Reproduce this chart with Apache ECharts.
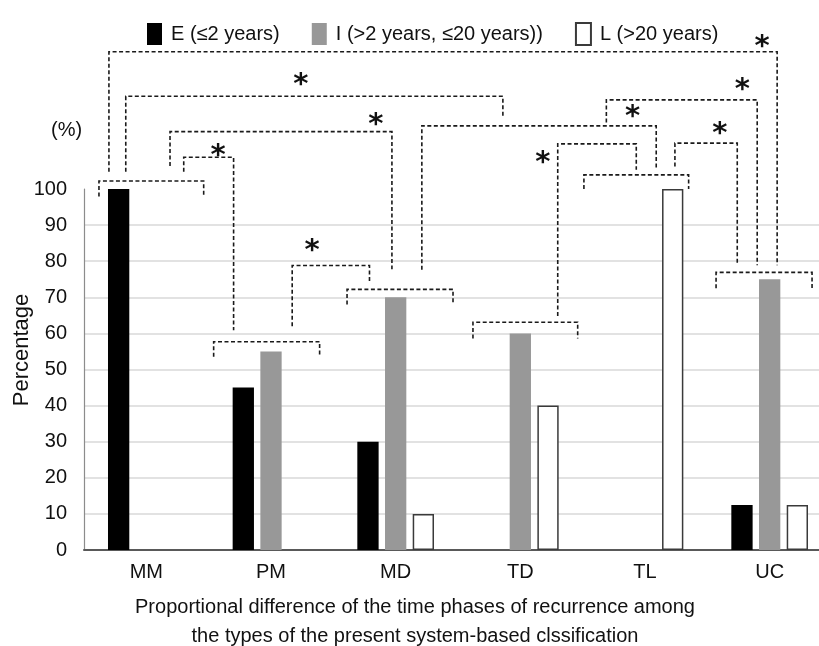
<!DOCTYPE html>
<html>
<head>
<meta charset="utf-8">
<script src="https://cdn.jsdelivr.net/npm/echarts@6/dist/echarts.min.js"></script>
<style>
html,body{margin:0;padding:0;background:#fff;}
#chart{width:819px;height:646px;}
</style>
</head>
<body>
<div id="chart"></div>
<script>
// ---- data ----
const categories = ['MM', 'PM', 'MD', 'TD', 'TL', 'UC'];
const seriesNames = ['E (≤2 years)', 'I (>2 years, ≤20 years))', 'L (>20 years)'];
const earlyValues = [100, 45, 30, 0, 0, 12.5];
const intermediateValues = [0, 55, 70, 60, 0, 75];
const lateValues = [0, 0, 10, 40, 100, 12.5];
const yTicks = [0, 10, 20, 30, 40, 50, 60, 70, 80, 90, 100];

// significance annotations, in data units (x: category position 0..6, y: percentage)
// group brackets: [xStart, xEnd, yTop, yTickEnd]
const groupBrackets = [
  [0.12, 0.96, 102.2, 97.9],
  [1.04, 1.89, 57.7, 53.5],
  [2.11, 2.96, 72.2, 68.0],
  [3.12, 3.96, 63.1, 58.6],
  [4.01, 4.85, 103.9, 100.0],
  [5.07, 5.84, 76.9, 72.5]
];
// comparison brackets: [xStart, xEnd, yTop, yLeftEnd, yRightEnd, starX, starY]
const compBrackets = [
  [0.20, 5.56, 138.0, 104.8, 78.9, 5.44, 140.5],
  [0.335, 3.36, 125.7, 104.8, 119.8, 1.74, 130.2],
  [0.69, 2.47, 115.9, 106.4, 77.8, 2.34, 119.1],
  [0.80, 1.20, 108.8, 104.8, 60.9, 1.075, 110.3],
  [1.67, 2.29, 78.8, 62.0, 74.2, 1.83, 84.0],
  [2.71, 4.59, 117.5, 77.6, 105.7, 4.40, 121.2],
  [3.80, 4.43, 112.5, 64.8, 105.3, 3.68, 108.5],
  [4.74, 5.24, 112.7, 106.2, 78.9, 5.10, 116.5],
  [4.19, 5.40, 124.7, 118.4, 78.9, 5.28, 128.8]
];

const FONT = '"Liberation Sans", Arial, sans-serif';
const dashStyle = { stroke: '#1a1a1a', lineWidth: 1.6, lineDash: [4, 2.5], fill: null };
const hideZero = arr => arr.map(v => (v === 0 ? null : v));

const chart = echarts.init(document.getElementById('chart'), null, { renderer: 'canvas' });

function renderGroup(params, api) {
  const b = groupBrackets[params.dataIndex];
  const p1 = api.coord([b[0], b[3]]);
  const p2 = api.coord([b[0], b[2]]);
  const p3 = api.coord([b[1], b[2]]);
  const p4 = api.coord([b[1], b[3]]);
  return { type: 'polyline', shape: { points: [p1, p2, p3, p4] }, style: dashStyle, silent: true };
}
function renderComp(params, api) {
  const b = compBrackets[params.dataIndex];
  const p1 = api.coord([b[0], b[3]]);
  const p2 = api.coord([b[0], b[2]]);
  const p3 = api.coord([b[1], b[2]]);
  const p4 = api.coord([b[1], b[4]]);
  const s = api.coord([b[5], b[6]]);
  return {
    type: 'group',
    children: [
      { type: 'polyline', shape: { points: [p1, p2, p3, p4] }, style: dashStyle, silent: true },
      { type: 'text', style: { text: '*', x: s[0], y: s[1] + 5, fontSize: 29, fontWeight: 'bold', fontFamily: '"DejaVu Sans", sans-serif', fill: '#111', align: 'center', verticalAlign: 'middle' }, silent: true }
    ]
  };
}

const option = {
  animation: false,
  backgroundColor: '#fff',
  textStyle: { fontFamily: FONT },
  legend: {
    data: seriesNames,
    left: 142, top: 17,
    itemWidth: 15, itemHeight: 22, itemGap: 32,
    icon: 'rect',
    textStyle: { fontSize: 20, color: '#111', fontFamily: FONT, padding: [0, 0, 0, 4] }
  },
  grid: { left: 84, top: 189, bottom: 96, width: 748, outerBoundsMode: 'none', containLabel: false },
  xAxis: [
    {
      type: 'category', data: categories,
      axisLine: { lineStyle: { color: '#595959', width: 2 } },
      axisTick: { show: false },
      axisLabel: { fontSize: 20, color: '#111', margin: 12, fontFamily: FONT }
    },
    { type: 'value', min: 0, max: 6, show: false }
  ],
  yAxis: {
    type: 'value', min: yTicks[0], max: yTicks[yTicks.length - 1], interval: 10,
    axisLine: { show: true, lineStyle: { color: '#8c8c8c', width: 1.2 } },
    axisTick: { show: false },
    axisLabel: { fontSize: 20, color: '#111', margin: 17, fontFamily: FONT },
    splitLine: { show: true, showMaxLine: false, lineStyle: { color: '#d9d9d9', width: 1.5 } }
  },
  series: [
    { name: seriesNames[0], type: 'bar', data: hideZero(earlyValues), barWidth: 21.3, barGap: '30%',
      itemStyle: { color: '#000000' } },
    { name: seriesNames[1], type: 'bar', data: hideZero(intermediateValues), barWidth: 21.3, barGap: '30%',
      itemStyle: { color: '#989898' } },
    { name: seriesNames[2], type: 'bar', data: hideZero(lateValues), barWidth: 21.3, barGap: '30%',
      itemStyle: { color: '#ffffff', borderColor: '#3a3a3a', borderWidth: 1.5 } },
    { name: 'groupBrackets', type: 'custom', xAxisIndex: 1, yAxisIndex: 0, clip: false, z: 5,
      data: groupBrackets.map(b => [b[0], b[2]]), renderItem: renderGroup, silent: true },
    { name: 'compBrackets', type: 'custom', xAxisIndex: 1, yAxisIndex: 0, clip: false, z: 5,
      data: compBrackets.map(b => [b[0], b[2]]), renderItem: renderComp, silent: true }
  ],
  graphic: [
    { type: 'text', left: 51, top: 120, style: { text: '(%)', fontSize: 20, fill: '#111', fontFamily: FONT } },
    { type: 'text', x: 22, y: 350, rotation: Math.PI / 2, style: { text: 'Percentage', fontSize: 22, fill: '#111', fontFamily: FONT, align: 'center', verticalAlign: 'middle' } },
    { type: 'text', x: 415, y: 622, style: {
        text: 'Proportional difference of the time phases of recurrence among\nthe types of the present system-based clssification',
        fontSize: 20, lineHeight: 29, fill: '#111', fontFamily: FONT, align: 'center', verticalAlign: 'middle' } }
  ]
};
chart.setOption(option);
</script>
</body>
</html>
